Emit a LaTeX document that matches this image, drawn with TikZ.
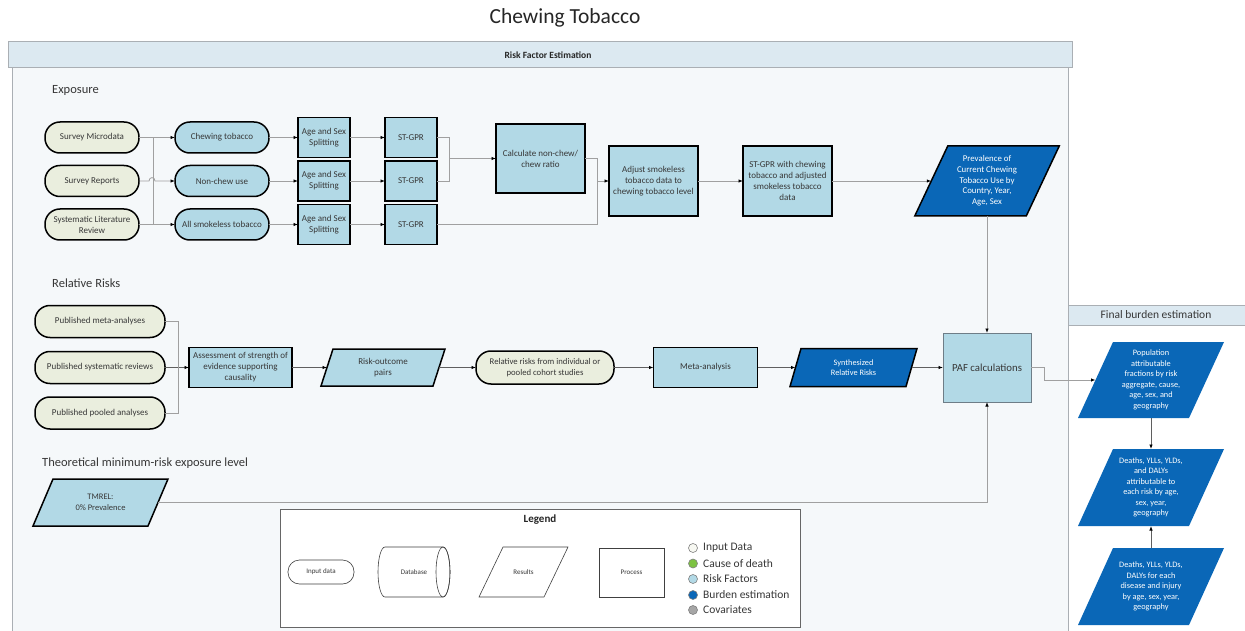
\documentclass[tikz,border=0pt]{standalone}
\usepackage{fontspec}
\setmainfont{Carlito}
\usetikzlibrary{arrows.meta,calc}
\definecolor{inp}{RGB}{234,238,222}
\definecolor{rf}{RGB}{178,217,230}
\definecolor{bur}{RGB}{10,103,183}
\definecolor{cod}{RGB}{125,194,66}
\definecolor{cov}{RGB}{166,166,166}
\definecolor{pan}{RGB}{245,248,250}
\definecolor{hdr}{RGB}{220,233,241}
\definecolor{txt}{RGB}{55,55,55}
\definecolor{lin}{RGB}{160,160,160}
\definecolor{lind}{RGB}{95,95,95}
\definecolor{pline}{RGB}{170,175,180}
\definecolor{pafline}{RGB}{110,125,135}
\pgfdeclarelayer{panel}
\pgfdeclarelayer{shapes}
\pgfsetlayers{panel,shapes,main}
\tikzset{
  base/.style={font=\fontsize{9}{11}\selectfont, text=txt, align=center, inner sep=1pt, outer sep=0pt},
  inoval/.style={base, draw=black, line width=1.5pt, fill=inp, rounded corners=15pt, minimum width=94, minimum height=31},
  rfoval/.style={base, draw=black, line width=1.5pt, fill=rf, rounded corners=15pt, minimum width=94, minimum height=31},
  rfbox/.style={base, draw=black, line width=1.5pt, fill=rf},
  para/.style={base, rectangle},
  lbl/.style={anchor=west, inner sep=0pt, font=\fontsize{12.5}{15}\selectfont, text=txt},
  cline/.style={draw=lin, line width=0.8pt},
  conn/.style={draw=lin, line width=0.8pt, -{Latex[color=black,length=4.5pt,width=3.5pt]}},
  connd/.style={conn, draw=lind},
  lgshape/.style={draw=black!75, line width=0.6pt, fill=white, font=\fontsize{7}{8}\selectfont, text=txt, inner sep=1pt, outer sep=0pt},
  legc/.style={circle, draw=black!50, line width=0.6pt, minimum size=9pt, inner sep=0pt},
  legt/.style={anchor=west, inner sep=0pt, font=\fontsize{11.5}{13}\selectfont, text=txt},
}
\newcommand\drawpara[3]{%
  \begin{pgfonlayer}{shapes}
  \draw[#3] ([xshift=#2/2]#1.north west) -- ([xshift=#2/2]#1.north east) -- ([xshift=-#2/2]#1.south east) -- ([xshift=-#2/2]#1.south west) -- cycle;
  \end{pgfonlayer}}
\begin{document}
\begin{tikzpicture}[x=1pt,y=-1pt]
\useasboundingbox (0,0) rectangle (1245,631);
\begin{pgfonlayer}{panel}
  \fill[white] (0,0) rectangle (1245,631);
  \draw[pline, fill=pan, line width=0.8pt] (12,67) rectangle (1068,631);
  \draw[pline, fill=hdr, line width=0.8pt] (8,41) rectangle (1072,67);
  \draw[pline, fill=white, line width=0.8pt] (1068,325) rectangle (1245,631);
  \draw[pline, fill=hdr, line width=0.8pt] (1068,305) rectangle (1245,325);
  \draw[black!60, fill=white, line width=0.8pt] (280,509) rectangle (800,627);
\end{pgfonlayer}

% titles
\node[font=\fontsize{21.5}{25}\selectfont, text=black!85] (title) at (565,18) {Chewing Tobacco};
\node[font=\bfseries\fontsize{9.5}{11}\selectfont, text=black!85] (hrf) at (548,55) {Risk Factor Estimation};
\node[font=\fontsize{11.5}{13}\selectfont, text=txt] (hfb) at (1156,315) {Final burden estimation};
\node[lbl] (lexp) at (52,90) {Exposure};
\node[lbl] (lrr) at (52,283) {Relative Risks};
\node[lbl] (ltm) at (42,463) {Theoretical minimum-risk exposure level};

% exposure
\node[inoval] (sm) at (92,137.5) {Survey Microdata};
\node[inoval] (sr) at (92,181) {Survey Reports};
\node[inoval] (slr) at (92,224.5) {Systematic Literature\\Review};
\node[rfoval] (ct) at (222,137.5) {Chewing tobacco};
\node[rfoval] (nc) at (222,181) {Non-chew use};
\node[rfoval] (ast) at (222,224.5) {All smokeless tobacco};
\node[rfbox, minimum width=52, minimum height=40] (as1) at (324,137.5) {Age and Sex\\Splitting};
\node[rfbox, minimum width=52, minimum height=40] (as2) at (324,181) {Age and Sex\\Splitting};
\node[rfbox, minimum width=52, minimum height=40] (as3) at (324,224.5) {Age and Sex\\Splitting};
\node[rfbox, minimum width=52, minimum height=40] (sg1) at (411,137.5) {ST-GPR};
\node[rfbox, minimum width=52, minimum height=40] (sg2) at (411,181) {ST-GPR};
\node[rfbox, minimum width=52, minimum height=40] (sg3) at (411,224.5) {ST-GPR};
\node[rfbox, minimum width=89, minimum height=69] (calc) at (540.5,158.5) {Calculate non-chew/\\chew ratio};
\node[rfbox, minimum width=89, minimum height=70] (adj) at (653.5,181) {Adjust smokeless\\tobacco data to\\chewing tobacco level};
\node[rfbox, minimum width=89, minimum height=70] (stw) at (787.5,181) {ST-GPR with chewing\\tobacco and adjusted\\smokeless tobacco\\data};
\node[para, minimum width=111.5, minimum height=70, text=white, font=\fontsize{8.8}{10.7}\selectfont] (prev) at (987,181) {Prevalence of\\Current Chewing\\Tobacco Use by\\Country, Year,\\Age, Sex};
\drawpara{prev}{33}{draw=black, line width=1.5pt, fill=bur}

\draw[conn] (sm) -- (ct);
\draw[conn] (slr) -- (ast);
\coordinate (b1) at ([xshift=14pt]sm.east);
\coordinate (b2) at ([xshift=14pt]slr.east);
\draw[cline] (b1) -- (b2);
\draw[conn] (sr.east) -- ([xshift=10pt]sr.east) .. controls ([xshift=10pt,yshift=4.5pt]sr.east) and ([xshift=16pt,yshift=4.5pt]sr.east) .. ([xshift=16pt]sr.east) -- (nc.west);
\draw[conn] (ct) -- (as1);
\draw[conn] (nc) -- (as2);
\draw[conn] (ast) -- (as3);
\draw[conn] (as1) -- (sg1);
\draw[conn] (as2) -- (sg2);
\draw[conn] (as3) -- (sg3);
\draw[cline] (sg1.east) -- ++(12,0) coordinate (j1) |- (sg2.east);
\draw[conn] (j1 |- calc.west) -- (calc.west);
\draw[cline] (calc.east) -- ++(12,0) coordinate (j2) |- (sg3.east);
\draw[conn] (j2 |- adj.west) -- (adj.west);
\draw[conn] (adj) -- (stw);
\draw[conn] (stw) -- (prev);

% relative risks
\node[inoval, minimum width=130, minimum height=32] (pm) at (100,321.5) {Published meta-analyses};
\node[inoval, minimum width=130, minimum height=32] (ps) at (100,367.5) {Published systematic reviews};
\node[inoval, minimum width=130, minimum height=32] (pp) at (100,413) {Published pooled analyses};
\node[rfbox, minimum width=103, minimum height=40] (ase) at (240.5,367.5) {Assessment of strength of\\evidence supporting\\causality};
\node[para, minimum width=112, minimum height=37] (rop) at (383,367.5) {Risk-outcome\\pairs};
\drawpara{rop}{12}{draw=black, line width=1.5pt, fill=rf}
\node[inoval, minimum width=138, minimum height=33, rounded corners=15pt, font=\fontsize{8.7}{10.5}\selectfont] (rrc) at (545,367.5) {Relative risks from individual or\\pooled cohort studies};
\node[rfbox, minimum width=104, minimum height=40] (meta) at (705.5,367.5) {Meta-analysis};
\node[para, minimum width=116, minimum height=38, text=white, font=\fontsize{8.3}{10.5}\selectfont] (syn) at (853.5,367.5) {Synthesized\\Relative Risks};
\drawpara{syn}{11}{draw=black, line width=1.5pt, fill=bur}
\node[base, draw=pafline, line width=1pt, fill=rf, minimum width=88, minimum height=69, font=\fontsize{10.8}{13}\selectfont] (paf) at (987,367.5) {PAF calculations};

\draw[connd] (ps) -- (ase);
\draw[cline] (pm.east) -- ++(13,0) |- (pp.east);
\draw[connd] (ase) -- (rop);
\draw[connd] (rop) -- (rrc);
\draw[connd] (rrc) -- (meta);
\draw[connd] (meta) -- (syn);
\draw[connd] (syn) -- (paf);
\draw[conn] (prev) -- (paf);

% TMREL
\node[para, minimum width=115, minimum height=47, font=\fontsize{8.5}{11}\selectfont] (tm) at (100.5,502.5) {TMREL:\\0\% Prevalence};
\drawpara{tm}{20}{draw=black, line width=1.5pt, fill=rf}
\draw[conn] (tm.east) -| (paf.south);

% final burden
\node[para, minimum width=111, minimum height=76, text=white, font=\fontsize{8.3}{10.5}\selectfont] (f1) at (1151,380) {Population\\attributable\\fractions by risk\\aggregate, cause,\\age, sex, and\\geography};
\drawpara{f1}{35}{draw=none, fill=bur}
\node[para, minimum width=111, minimum height=77, text=white, font=\fontsize{8.3}{10.5}\selectfont] (f2) at (1151,487.5) {Deaths, YLLs, YLDs,\\and DALYs\\attributable to\\each risk by age,\\sex, year,\\geography};
\drawpara{f2}{35}{draw=none, fill=bur}
\node[para, minimum width=111, minimum height=77, text=white, font=\fontsize{8.3}{10.5}\selectfont] (f3) at (1151,586.5) {Deaths, YLLs, YLDs,\\DALYs for each\\disease and injury\\by age, sex, year,\\geography};
\drawpara{f3}{35}{draw=none, fill=bur}
\draw[conn] (paf.east) -- ++(13,0) |- (f1.west);
\draw[connd] (f1) -- (f2);
\draw[connd] (f3) -- (f2);

% legend
\node[font=\bfseries\fontsize{11}{13}\selectfont, text=black!85] (lgt) at (540,520) {Legend};
\node[lgshape, rounded corners=11.5pt, minimum width=66, minimum height=24] (lin) at (321,572) {Input data};
\node[lgshape, draw=none, fill=none, minimum width=72, minimum height=50] (ldb) at (414,572) {Database};
\begin{pgfonlayer}{shapes}
\draw[black!75, line width=0.6pt, fill=white] ([xshift=7pt]ldb.north west) -- ([xshift=-7pt]ldb.north east) arc[start angle=90, end angle=-90, x radius=7pt, y radius=25pt] -- ([xshift=7pt]ldb.south west) arc[start angle=270, end angle=90, x radius=7pt, y radius=25pt] -- cycle;
\draw[black!75, line width=0.6pt] ([xshift=-7pt]ldb.east) ellipse[x radius=7pt, y radius=25pt];
\end{pgfonlayer}
\node[lgshape, draw=none, fill=none, minimum width=65, minimum height=50] (lres) at (523.5,572) {Results};
\drawpara{lres}{24}{draw=black!75, line width=0.6pt, fill=white}
\node[lgshape, minimum width=65, minimum height=49] (lpro) at (631.5,572.5) {Process};

\node[legc, fill=inp!40] (c1) at (693,548) {};
\node[legc, fill=cod] (c2) at (693,563.5) {};
\node[legc, fill=rf] (c3) at (693,579) {};
\node[legc, fill=bur] (c4) at (693,595) {};
\node[legc, fill=cov] (c5) at (693,610) {};
\node[legt] (t1) at (703,548) {Input Data};
\node[legt] (t2) at (703,563.5) {Cause of death};
\node[legt] (t3) at (703,579) {Risk Factors};
\node[legt] (t4) at (703,595) {Burden estimation};
\node[legt] (t5) at (703,610) {Covariates};
\end{tikzpicture}
\end{document}
